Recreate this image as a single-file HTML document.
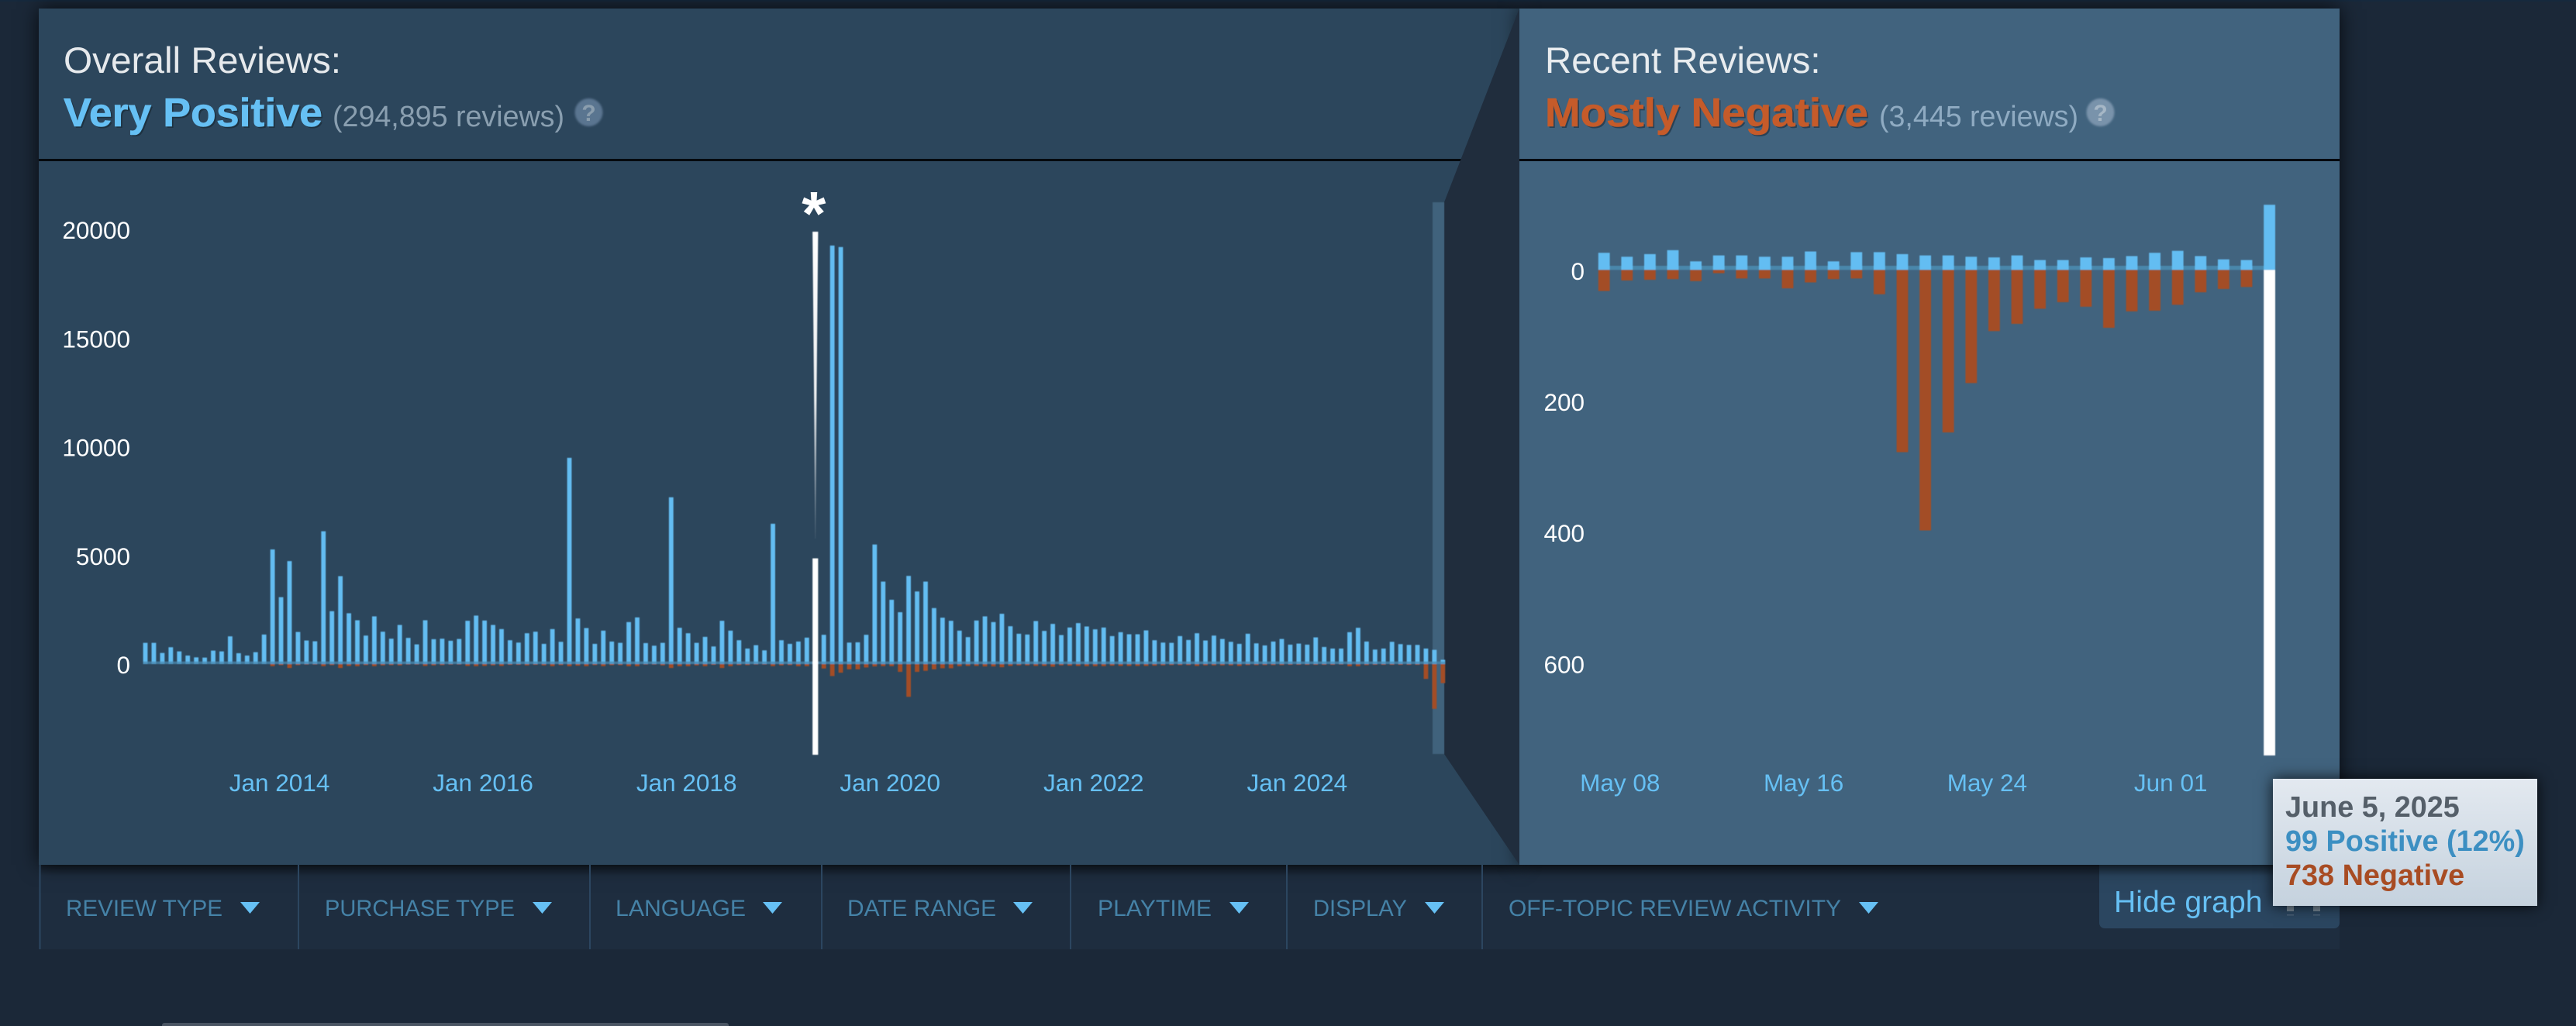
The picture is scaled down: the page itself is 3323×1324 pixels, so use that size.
<!DOCTYPE html>
<html lang="en">
<head>
<meta charset="utf-8">
<title>Steam review histogram</title>
<style>
html,body{margin:0;padding:0;background:#1b2838;width:3323px;height:1324px;overflow:hidden;font-family:"Liberation Sans",sans-serif}
#stage{position:relative;width:3323px;height:1324px;overflow:hidden}
.abs{position:absolute}
#top-strip{left:0;top:0;width:3323px;height:2px;background:#16293d}
#filter-bar{left:50px;top:1116px;width:2968px;height:109px;background:#1e2d3f}
#hide-btn{left:2708px;top:1100px;width:310px;height:98px;background:#2b4660;border-radius:0 0 7px 7px}
#overall-panel{left:50px;top:11px;width:1910px;height:1105px;background:#2c465c;box-shadow:0 0 24px rgba(0,0,0,.75)}
#recent-panel{left:1960px;top:11px;width:1058px;height:1105px;background:#41637e;box-shadow:0 0 24px rgba(0,0,0,.75)}
#bottom-stub{left:209px;top:1320px;width:731px;height:8px;background:#4a5563;border-radius:3px 3px 0 0}
svg{position:absolute;left:0;top:0}
#tooltip{left:2932px;top:1005px;width:341px;height:164px;box-sizing:border-box;padding:15px 0 0 16px;background:linear-gradient(to bottom,#e3e9f0,#c5d2de);box-shadow:0 0 18px rgba(0,0,0,.8);font:bold 37.8px/44px "Liberation Sans",sans-serif;white-space:nowrap}
#tooltip div{height:44px}
</style>
</head>
<body>
<div id="stage">
  <div id="top-strip" class="abs"></div>
  <div id="filter-bar" class="abs"></div>
  <div id="hide-btn" class="abs"></div>
  <div id="overall-panel" class="abs"></div>
  <div id="recent-panel" class="abs"></div>
  <div id="bottom-stub" class="abs"></div>

  <svg id="chart" width="3323" height="1324" viewBox="0 0 3323 1324" xmlns="http://www.w3.org/2000/svg" font-family="'Liberation Sans',sans-serif">
    <defs>
      <linearGradient id="spikeFade" x1="0" y1="0" x2="0" y2="1">
        <stop offset="0" stop-color="#fff" stop-opacity="1"/>
        <stop offset="0.55" stop-color="#fff" stop-opacity="0.9"/>
        <stop offset="1" stop-color="#fff" stop-opacity="0.08"/>
      </linearGradient>
      <linearGradient id="barShadow" x1="0" y1="0" x2="0" y2="1">
        <stop offset="0" stop-color="#000" stop-opacity="0.35"/>
        <stop offset="1" stop-color="#000" stop-opacity="0"/>
      </linearGradient>
      <filter id="soft" x="-5%" y="-5%" width="110%" height="110%"><feGaussianBlur stdDeviation="0.45"/></filter>
      <filter id="iconSoft" x="-20%" y="-20%" width="140%" height="140%"><feGaussianBlur stdDeviation="1.4"/></filter>
    </defs>

    <rect x="50" y="1116" width="2968" height="14" fill="url(#barShadow)"/>

    <rect x="50" y="205" width="1910" height="3" fill="#05090e"/>
    <rect x="1960" y="205" width="1058" height="3" fill="#05090e"/>
    <polygon points="1960,11 1863,261 1863,973 1960,1116" fill="#202d3d"/>
    <rect x="1848" y="261" width="15" height="712" fill="#41627c" filter="url(#soft)"/>

    <text x="82" y="94" font-size="47.7" fill="#e6e9ec" textLength="358" lengthAdjust="spacingAndGlyphs">Overall Reviews:</text>
    <text x="84" y="165" font-size="52" font-weight="bold" fill="#15242f" fill-opacity=".6" textLength="334" lengthAdjust="spacingAndGlyphs" aria-hidden="true">Very Positive</text>
    <text x="82" y="163" font-size="52" font-weight="bold" fill="#66c0f4" stroke="#66c0f4" stroke-width=".6" textLength="334" lengthAdjust="spacingAndGlyphs">Very Positive</text>
    <text x="429" y="163" font-size="37.6" fill="#8a9fb0" textLength="299" lengthAdjust="spacingAndGlyphs">(294,895 reviews)</text>
    <g>
      <circle cx="759.5" cy="145" r="18" fill="#5a7590" filter="url(#iconSoft)"/>
      <text x="759.5" y="156" font-size="30" font-weight="bold" fill="#8b9eae" text-anchor="middle">?</text>
    </g>

    <text x="1993" y="94" font-size="47.7" fill="#e8ecef" textLength="355.5" lengthAdjust="spacingAndGlyphs">Recent Reviews:</text>
    <text x="1995" y="165" font-size="52" font-weight="bold" fill="#1d2f3f" fill-opacity=".65" textLength="417" lengthAdjust="spacingAndGlyphs" aria-hidden="true">Mostly Negative</text>
    <text x="1993" y="163" font-size="52" font-weight="bold" fill="#c55b2a" stroke="#c55b2a" stroke-width=".6" textLength="417" lengthAdjust="spacingAndGlyphs">Mostly Negative</text>
    <text x="2424" y="163" font-size="37.6" fill="#8fabc2" textLength="257" lengthAdjust="spacingAndGlyphs">(3,445 reviews)</text>
    <g>
      <circle cx="2709.5" cy="145" r="18" fill="#7993ab" filter="url(#iconSoft)"/>
      <text x="2709.5" y="156" font-size="30" font-weight="bold" fill="#a6b7c6" text-anchor="middle">?</text>
    </g>

    <g id="overall-bars" filter="url(#soft)"></g>
    <g id="recent-bars" filter="url(#soft)"></g>
    <g id="ticks" font-size="31.5"></g>

    <g fill="#2c4660">
      <rect x="50.5" y="1116" width="2" height="109"/>
      <rect x="384" y="1116" width="2" height="109"/>
      <rect x="760" y="1116" width="2" height="109"/>
      <rect x="1059" y="1116" width="2" height="109"/>
      <rect x="1380" y="1116" width="2" height="109"/>
      <rect x="1659" y="1116" width="2" height="109"/>
      <rect x="1911" y="1116" width="2" height="109"/>
    </g>
    <g font-size="30" fill="#4582a7">
      <g>
        <text x="85" y="1182" textLength="202" lengthAdjust="spacingAndGlyphs">REVIEW TYPE</text>
        <polygon points="310,1164 335,1164 322.5,1179" fill="#66c0f4"/>
      </g>
      <g>
        <text x="419" y="1182" textLength="245" lengthAdjust="spacingAndGlyphs">PURCHASE TYPE</text>
        <polygon points="687,1164 712,1164 699.5,1179" fill="#66c0f4"/>
      </g>
      <g>
        <text x="794" y="1182" textLength="168" lengthAdjust="spacingAndGlyphs">LANGUAGE</text>
        <polygon points="984,1164 1009,1164 996.5,1179" fill="#66c0f4"/>
      </g>
      <g>
        <text x="1093" y="1182" textLength="192" lengthAdjust="spacingAndGlyphs">DATE RANGE</text>
        <polygon points="1307,1164 1332,1164 1319.5,1179" fill="#66c0f4"/>
      </g>
      <g>
        <text x="1416" y="1182" textLength="147" lengthAdjust="spacingAndGlyphs">PLAYTIME</text>
        <polygon points="1586,1164 1611,1164 1598.5,1179" fill="#66c0f4"/>
      </g>
      <g>
        <text x="1694" y="1182" textLength="121" lengthAdjust="spacingAndGlyphs">DISPLAY</text>
        <polygon points="1838,1164 1863,1164 1850.5,1179" fill="#66c0f4"/>
      </g>
      <g>
        <text x="1946" y="1182" textLength="429" lengthAdjust="spacingAndGlyphs">OFF-TOPIC REVIEW ACTIVITY</text>
        <polygon points="2398,1164 2423,1164 2410.5,1179" fill="#66c0f4"/>
      </g>
    </g>

    <text x="2727" y="1177" font-size="39" fill="#66c0f4" textLength="191.5" lengthAdjust="spacingAndGlyphs">Hide graph</text>
    <g fill="#8a97a3">
      <rect x="2950" y="1169" width="9" height="7" opacity=".8"/>
      <rect x="2984" y="1169" width="9" height="7" opacity=".8"/>
      <rect x="2950" y="1180" width="9" height="1.5" opacity=".35"/>
      <rect x="2984" y="1180" width="9" height="1.5" opacity=".35"/>
    </g>
  </svg>

  <div id="tooltip" class="abs">
    <div style="color:#555f69">June 5, 2025</div>
    <div style="color:#3c8fc2">99 Positive (12%)</div>
    <div style="color:#a84c23">738 Negative</div>
  </div>
</div>

<script>
// Overall chart data: monthly reviews, Sep 2012 to Jun 2025
var overallPositive = [
  984,984,516,780,588,396,312,300,624,588,
  1284,504,396,552,1368,5304,3096,4764,1488,1092,
  1056,6144,2448,4068,2352,2028,1320,2208,1500,1176,
  1812,1212,912,2028,1152,1176,1080,1164,2004,2244,
  2016,1812,1620,1104,996,1428,1500,936,1620,1032,
  9540,2112,1668,936,1548,1044,984,1944,2160,972,
  852,984,7716,1680,1428,984,1260,816,2004,1548,
  1104,720,876,636,6492,1104,936,1044,1224,4890,
  1356,19360,19290,996,1008,1356,5532,3816,2976,2400,
  4080,3360,3816,2592,2148,2004,1548,1248,2016,2208,
  1944,2328,1752,1404,1368,1992,1536,1860,1344,1692,
  1896,1740,1608,1692,1296,1476,1380,1380,1560,1104,
  996,984,1296,1116,1428,1092,1320,1164,1032,936,
  1404,960,864,1044,1164,900,948,900,1236,792,
  720,720,1476,1680,1044,672,720,1032,924,888,
  888,720,660,200
];
var overallNegative = [
  0,0,0,0,0,0,0,0,0,0,
  0,0,0,0,0,96,48,180,48,24,
  24,96,48,180,84,96,48,96,60,48,
  60,24,24,84,60,48,24,24,84,96,
  84,60,84,36,36,60,36,60,96,48,
  96,72,96,48,96,48,48,96,96,24,
  24,60,180,96,96,60,96,36,180,96,
  48,48,24,24,96,60,48,96,96,4193,
  204,552,396,240,240,156,108,96,96,360,
  1512,360,312,240,192,192,96,84,84,108,
  108,144,84,60,60,84,84,120,60,72,
  84,96,96,96,72,84,84,84,84,72,
  60,48,48,48,84,60,60,60,60,84,
  48,48,48,48,48,36,36,36,36,36,
  36,24,96,96,48,36,36,36,36,36,
  36,684,2070,880
];
var overallHighlightIndex = 79;
var overallSpikePeak = 20000;
var overallSpikeFadeEnd = 5806;
var overallYTicks = [0, 5000, 10000, 15000, 20000];
var overallXTickLabels = ["Jan 2014", "Jan 2016", "Jan 2018", "Jan 2020", "Jan 2022", "Jan 2024"];
var overallXTickIndex = [16, 40, 64, 88, 112, 136];

// Recent chart data: daily reviews, last 30 days
var recentPositive = [26,20,24,30,13,22,22,20,20,28,13,27,27,24,22,22,20,19,22,15,15,19,18,21,26,29,21,16,15,99];
var recentNegative = [32,16,15,14,17,5,13,13,28,19,14,13,37,277,396,247,172,93,82,59,49,56,88,63,62,53,34,29,26,738];
var recentHighlightIndex = 29;
var recentYTicks = [0, 200, 400, 600];
var recentXTickLabels = ["May 08", "May 16", "May 24", "Jun 01"];
var recentXTickIndex = [1, 9, 17, 25];

var SVGNS = 'http://www.w3.org/2000/svg';
var BLUE = '#64bdf2';
var RUST = '#a34d25';

function xOverall(i) { return 187.5 + i * 10.94; }
function yOverall(v) { return 857 - v * 0.0279; }
function yOverallTick(v) { return 869 - v * 0.02805; }
function xRecent(i) { return 2069.2 + i * 29.6; }
function yRecent(v) { return 348.3 + v * 0.849; }
function yRecentTick(v) { return 361 + v * 0.8455; }

function addRect(parent, x, y, w, h, fill) {
  var r = document.createElementNS(SVGNS, 'rect');
  r.setAttribute('x', x);
  r.setAttribute('y', y);
  r.setAttribute('width', w);
  r.setAttribute('height', h);
  r.setAttribute('fill', fill);
  parent.appendChild(r);
  return r;
}
function addText(parent, x, y, str, fill, anchor) {
  var t = document.createElementNS(SVGNS, 'text');
  t.setAttribute('x', x);
  t.setAttribute('y', y);
  t.setAttribute('fill', fill);
  t.setAttribute('text-anchor', anchor);
  t.textContent = str;
  parent.appendChild(t);
  return t;
}

var overallGroup = document.getElementById('overall-bars');
var recentGroup = document.getElementById('recent-bars');
var tickGroup = document.getElementById('ticks');
var el;

// overall bars
var overallW = 5.8;
overallPositive.forEach(function (v, i) {
  var y = yOverall(v);
  var color = i === overallHighlightIndex ? '#ffffff' : BLUE;
  var b = addRect(overallGroup, xOverall(i) - overallW / 2, y, overallW, yOverall(0) - y, color);
  
  
});
overallNegative.forEach(function (v, i) {
  var color = i === overallHighlightIndex ? '#ffffff' : RUST;
  var b = addRect(overallGroup, xOverall(i) - overallW / 2, yOverall(0), overallW, yOverall(-v) - yOverall(0), color);
  
  
});
el = addRect(overallGroup, xOverall(0) - 3, yOverall(0) - 3.4, xOverall(overallPositive.length - 1) - xOverall(0) + 6, 3.4, '#4a8ab0');
el.setAttribute('opacity', '0.75');



// redraw the highlighted bar above the zero line
var hx = xOverall(overallHighlightIndex);
el = addRect(overallGroup, hx - 3.6, yOverall(overallPositive[overallHighlightIndex]), 7.2, yOverall(-overallNegative[overallHighlightIndex]) - yOverall(overallPositive[overallHighlightIndex]), '#ffffff');



// broken spike above the highlighted bar
var spike = document.createElementNS(SVGNS, 'polygon');
var sTop = yOverall(overallSpikePeak);
var sEnd = yOverall(overallSpikeFadeEnd);
var sMid = sTop + (sEnd - sTop) * 0.55;
spike.setAttribute('points', [
  (hx - 3.6) + ',' + sTop, (hx + 3.6) + ',' + sTop,
  (hx + 1.6) + ',' + sMid, (hx + 0.5) + ',' + sEnd,
  (hx - 0.5) + ',' + sEnd, (hx - 1.6) + ',' + sMid
].join(' '));
spike.setAttribute('fill', 'url(#spikeFade)');


overallGroup.appendChild(spike);

// recent bars
var recentW = 14.8;
el = addRect(recentGroup, xRecent(0) - recentW / 2, yRecent(0) - 5.3, xRecent(recentPositive.length - 1) - xRecent(0) + recentW, 5.3, '#4a87ab');


recentPositive.forEach(function (v, i) {
  var y = yRecent(-v);
  var b = addRect(recentGroup, xRecent(i) - recentW / 2, y, recentW, yRecent(0) - y, BLUE);
  
  
});
recentNegative.forEach(function (v, i) {
  var color = i === recentHighlightIndex ? '#ffffff' : RUST;
  var b = addRect(recentGroup, xRecent(i) - recentW / 2, yRecent(0), recentW, yRecent(v) - yRecent(0), color);
  
  
});

// ticks
overallYTicks.forEach(function (v) {
  var t = addText(tickGroup, 168, yOverallTick(v), String(v), '#ffffff', 'end');
  
  
});
overallXTickLabels.forEach(function (s, i) {
  var t = addText(tickGroup, xOverall(overallXTickIndex[i]) - 2, 1021, s, '#66c0f4', 'middle');
  
  
});
recentYTicks.forEach(function (v) {
  var t = addText(tickGroup, 2044, yRecentTick(v), String(v), '#ffffff', 'end');
  
  
});
recentXTickLabels.forEach(function (s, i) {
  var t = addText(tickGroup, xRecent(recentXTickIndex[i]) - 9, 1021, s, '#66c0f4', 'middle');
  
  
});

// spike marker
var star = addText(tickGroup, hx - 2, 303, '*', '#ffffff', 'middle');
star.setAttribute('font-size', '80');
star.setAttribute('font-weight', 'bold');


</script>
</body>
</html>
